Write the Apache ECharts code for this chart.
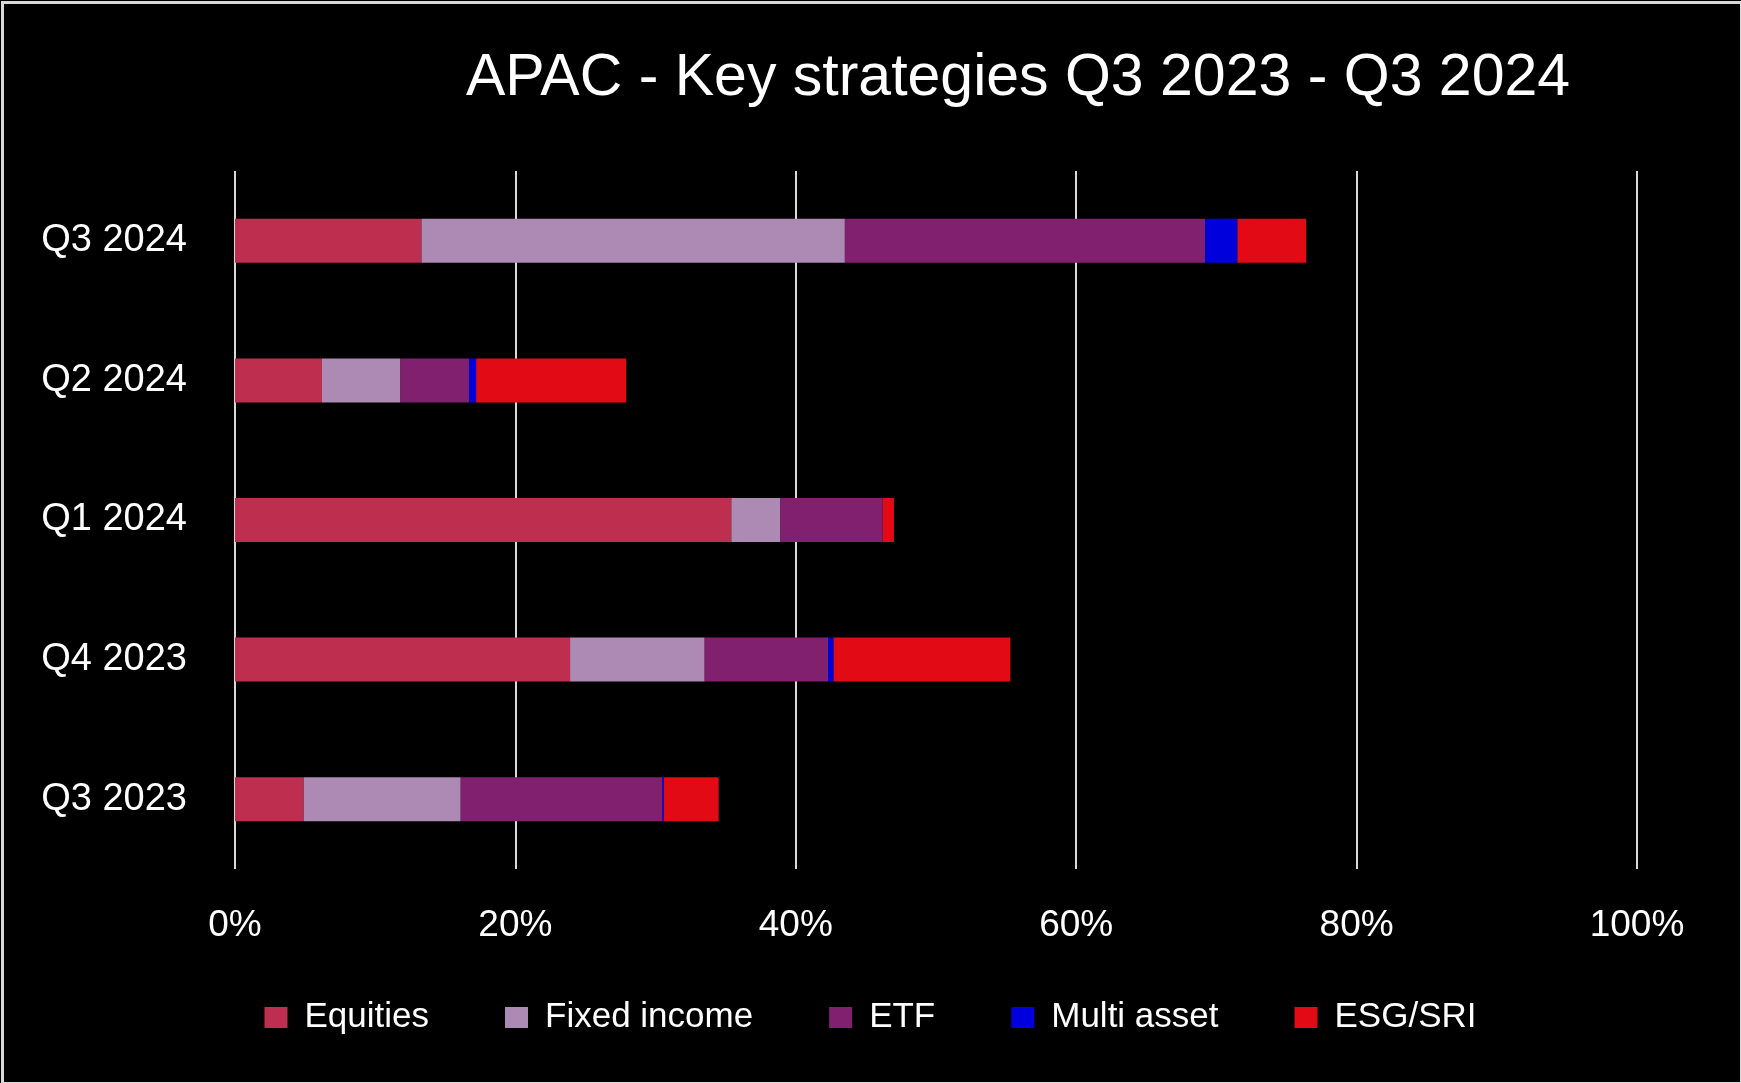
<!DOCTYPE html>
<html>
<head>
<meta charset="utf-8">
<style>
html,body{margin:0;padding:0;background:#000;}
#c{width:1741px;height:1083px;}
</style>
<script src="https://cdn.jsdelivr.net/npm/echarts@6/dist/echarts.min.js"></script>
</head>
<body>
<div id="c"></div>
<script>
const categories = ['Q3 2023', 'Q4 2023', 'Q1 2024', 'Q2 2024', 'Q3 2024'];
const equities    = [4.9, 23.9, 35.4, 6.2, 13.3];
const fixedIncome = [11.2, 9.6, 3.5, 5.6, 30.2];
const etf         = [14.4, 8.8, 7.3, 4.9, 25.7];
const multiAsset  = [0.1, 0.4, 0, 0.5, 2.3];
const esgSri      = [3.9, 12.6, 0.8, 10.7, 4.9];
const seriesNames = ['Equities', 'Fixed income', 'ETF', 'Multi asset', 'ESG/SRI'];
const seriesColors = ['#BE2F4F', '#AC8AB4', '#80206E', '#0000DC', '#E20A14'];
const xTicks = [0, 20, 40, 60, 80, 100];

const font = '"Liberation Sans", Arial, sans-serif';
const data = [equities, fixedIncome, etf, multiAsset, esgSri];
const chart = echarts.init(document.getElementById('c'), null, {renderer: 'canvas'});
chart.setOption({
  backgroundColor: '#000',
  animation: false,
  title: {
    text: 'APAC - Key strategies Q3 2023 - Q3 2024',
    left: 461, top: 44,
    textStyle: {color: '#fff', fontSize: 59, fontWeight: 'normal', fontFamily: font}
  },
  legend: {
    data: seriesNames,
    bottom: 43,
    left: 'center',
    itemWidth: 23, itemHeight: 21, itemGap: 76,
    icon: 'rect',
    textStyle: {color: '#fff', fontSize: 35, fontFamily: font, padding: [0, 0, 0, 12]}
  },
  grid: {left: 235, right: 104, top: 171, bottom: 214, containLabel: false},
  xAxis: {
    type: 'value', min: 0, max: 100, interval: 20,
    axisLine: {show: false}, axisTick: {show: false},
    splitLine: {lineStyle: {color: '#d9d9d9', width: 2}},
    axisLabel: {color: '#fff', fontSize: 37, fontFamily: font, margin: 38,
      formatter: v => xTicks.includes(v) ? v + '%' : ''}
  },
  yAxis: {
    type: 'category', data: categories,
    axisLine: {show: false}, axisTick: {show: false},
    axisLabel: {color: '#fff', fontSize: 38, fontFamily: font, margin: 48}
  },
  graphic: [{
    type: 'rect', left: 0, top: 0, z: 100,
    shape: {x: 1, y: 1, width: 1739, height: 1081},
    style: {fill: 'none', stroke: '#d9d9d9', lineWidth: 3}
  }],
  series: seriesNames.map((n, i) => ({
    name: n, type: 'bar', stack: 'total', barWidth: 44,
    itemStyle: {color: seriesColors[i]},
    data: data[i]
  }))
});
</script>
</body>
</html>
